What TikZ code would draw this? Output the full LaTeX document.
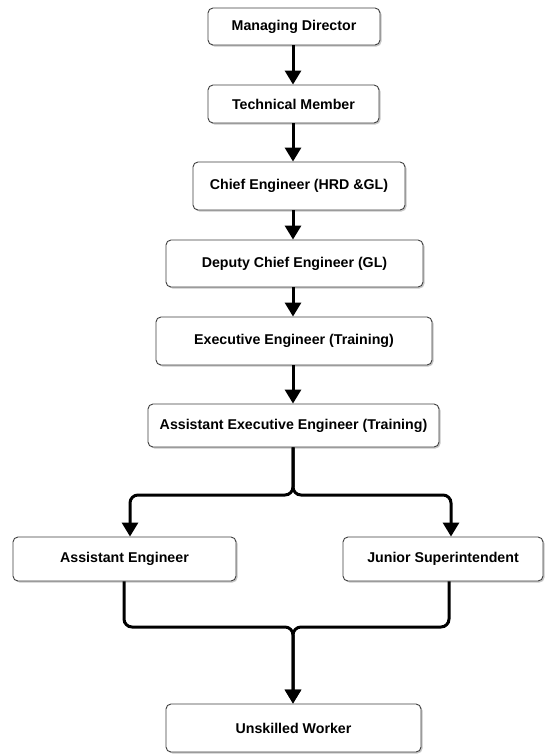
\documentclass[tikz,border=0pt]{standalone}
\usepackage{fontspec}
\setmainfont{Liberation Sans}
\usetikzlibrary{arrows.meta,shadows}
\begin{document}
\begin{tikzpicture}[x=1pt,y=-1pt,
  box/.style={draw=black!75, line width=0.9pt, rounded corners=5pt, fill=white,
    font=\fontsize{14.2}{16}\selectfont\bfseries, inner sep=0pt,
    drop shadow={shadow xshift=1.5pt, shadow yshift=-1.5pt, fill=black!40, opacity=0.55}},
  conn/.style={line width=3pt, -{Triangle[width=16pt,length=14pt]}, rounded corners=8pt},
  wire/.style={line width=3pt, rounded corners=8pt},
]
\useasboundingbox (0,0) rectangle (544,755);
\fill[white] (0,0) rectangle (544,755);

\coordinate (spine) at (293,0);
\coordinate (split) at (0,495);
\coordinate (merge) at (0,627);
\coordinate (leftin) at (130,0);
\coordinate (rightin) at (451,0);
\coordinate (leftout) at (124,0);
\coordinate (rightout) at (449,0);

\node[box, minimum width=172pt, minimum height=37pt] (md)  at (294,26.5)  {Managing Director};
\node[box, minimum width=171pt, minimum height=38pt] (tm)  at (293.5,104) {Technical Member};
\node[box, minimum width=212pt, minimum height=48pt] (ce)  at (299,186)   {Chief Engineer (HRD \&GL)};
\node[box, minimum width=257pt, minimum height=47pt] (dce) at (294.5,263.5) {Deputy Chief Engineer (GL)};
\node[box, minimum width=276pt, minimum height=48pt] (ee)  at (294,341)   {Executive Engineer (Training)};
\node[box, minimum width=291pt, minimum height=43pt] (aee) at (293.5,425.5) {Assistant Executive Engineer (Training)};
\node[box, minimum width=223pt, minimum height=44pt] (ae)  at (124.5,559) {Assistant Engineer};
\node[box, minimum width=200pt, minimum height=44pt] (js)  at (443,559)   {Junior Superintendent};
\node[box, minimum width=255pt, minimum height=48pt] (uw)  at (293.5,728) {Unskilled Worker};

\draw[conn] (md.south -| spine) -- (tm.north -| spine);
\draw[conn] (tm.south -| spine) -- (ce.north -| spine);
\draw[conn] (ce.south -| spine) -- (dce.north -| spine);
\draw[conn] (dce.south -| spine) -- (ee.north -| spine);
\draw[conn] (ee.south -| spine) -- (aee.north -| spine);

\draw[conn] (aee.south -| spine) -- (spine |- split) -| (ae.north -| leftin);
\draw[conn] (aee.south -| spine) -- (spine |- split) -| (js.north -| rightin);

\draw[conn] (ae.south -| leftout) |- (spine |- merge) -- (uw.north -| spine);
\draw[conn] (js.south -| rightout) |- (spine |- merge) -- (uw.north -| spine);
\end{tikzpicture}
\end{document}
